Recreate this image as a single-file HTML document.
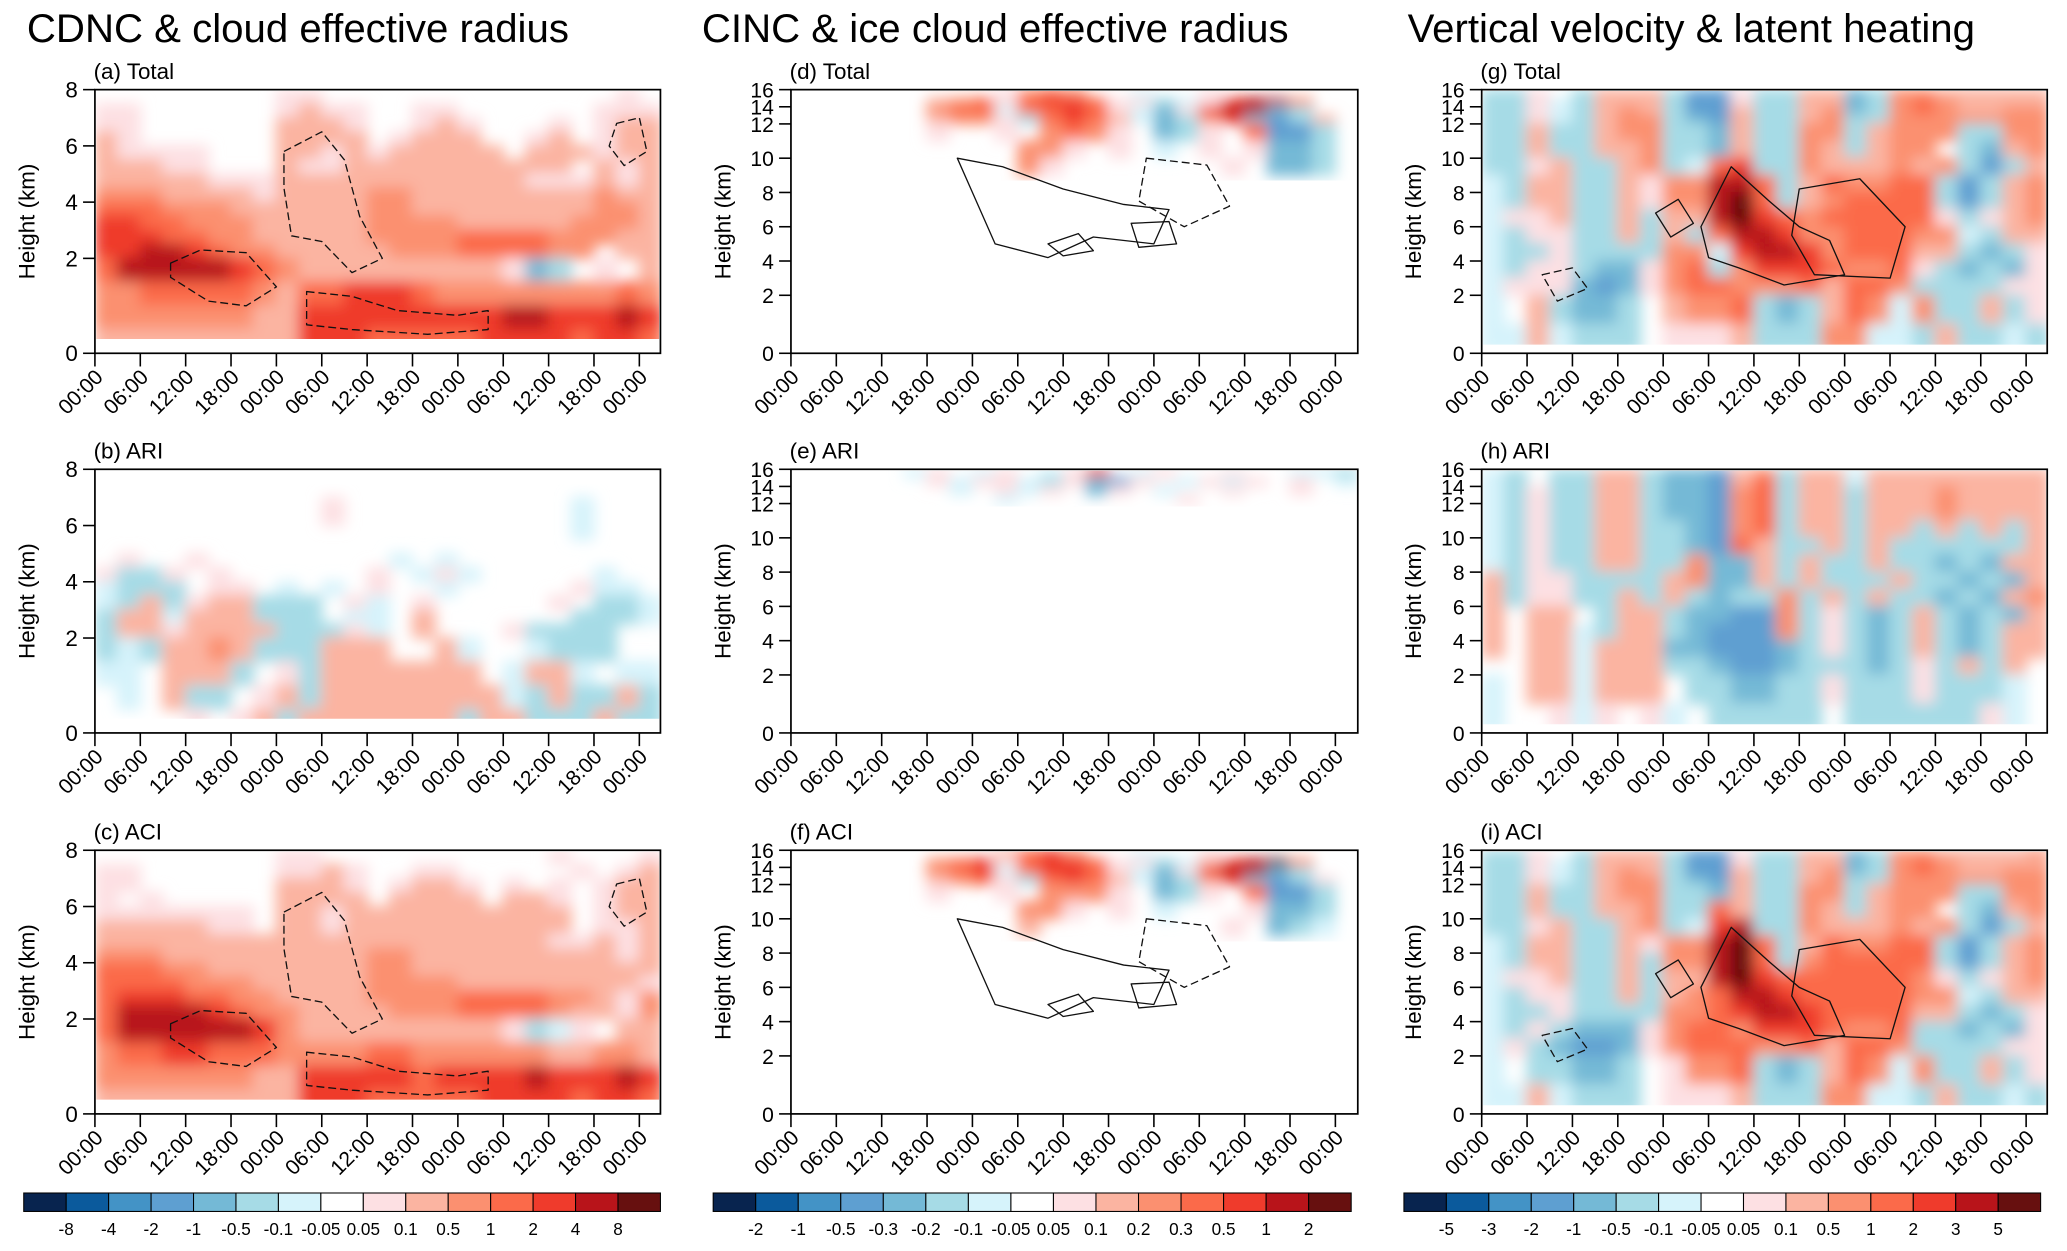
<!DOCTYPE html>
<html><head><meta charset="utf-8">
<style>
html,body{margin:0;padding:0;background:#fff;}
svg{display:block;}
text{font-family:"Liberation Sans",Arial,sans-serif;fill:#000;}
</style></head>
<body>
<svg id="fig" width="2067" height="1251" viewBox="0 0 1568 949" xmlns="http://www.w3.org/2000/svg">
<defs>
<filter id="soft" x="-5%" y="-5%" width="110%" height="110%"><feGaussianBlur stdDeviation="5.5"/></filter>
</defs>
<text x="226" y="32" font-size="30.5" text-anchor="middle">CDNC &amp; cloud effective radius</text>
<text x="755" y="32" font-size="30.5" text-anchor="middle">CINC &amp; ice cloud effective radius</text>
<text x="1283" y="32" font-size="30.5" text-anchor="middle">Vertical velocity &amp; latent  heating</text>
</svg>
<script>
// ---- colour levels ----
const colors = ["#08244f","#0b5a9c","#4393c6","#5e9fd1","#74b9d6","#a6dbe6","#d6f3fb","#ffffff","#fde0e3","#fbb4a1","#fb9070","#fb6a4a","#ef3b2c","#b8141a","#67100f"];
const cbLabels1 = ["-8","-4","-2","-1","-0.5","-0.1","-0.05","0.05","0.1","0.5","1","2","4","8"];
const cbLabels2 = ["-2","-1","-0.5","-0.3","-0.2","-0.1","-0.05","0.05","0.1","0.2","0.3","0.5","1","2"];
const cbLabels3 = ["-5","-3","-2","-1","-0.5","-0.1","-0.05","0.05","0.1","0.5","1","2","3","5"];
const timeTicks = ["00:00","06:00","12:00","18:00","00:00","06:00","12:00","18:00","00:00","06:00","12:00","18:00","00:00"];
const yTicksLow = [0,2,4,6,8];
const yTicksHigh = [0,2,4,6,8,10,12,14,16];
// field rows listed top (highest) to bottom; columns = 3-hour steps
const fieldA = [
"........11.............1.",
"11......1211..11......111",
"11......2221..121...1.122",
"21......2222.1222..12.122",
"21111...2212122222.222122",
"22211...2112222222222.212",
"2222211122222222222111212",
"3332222122223322222222322",
"4443332222223322222222332",
"5544333222223333222223332",
"5554433222223333444433322",
"5566543322222333444433.22",
"4666665432222222221cb.1.2",
"3344444324455543333333343",
"3333333225555555556655565",
"2222222225554444455554554"];
const fieldB = [
".........................",
".........................",
"..........1..........a...",
"..........1..........a...",
".....................a...",
".........................",
".1..1........a.a.........",
"1bb1.1......1.a1a.....a..",
"abbb.11.a.a.1..a.....1aa.",
"ab2b122bbb.1a.1.....1.bba",
"b22a222bbb.aa.2......bbba",
"b2212222bbb1a.2...1bbbb..",
"bab2232bbb222..2a..abbb..",
"aa.222b.1b2222222.a22a.aa",
".a.2bb.12b22222222ab2bb2b",
"....1.12b2222222b22bbb2bb"];
const fieldC = [
"........11..........1...1",
"11......1121..11.....1.12",
"11......2221.1221.1.1.122",
"1.1.....2222.2222.221.122",
"1111111.2212222222222.122",
"2222211.2212222222222.112",
"2222222222222222222211212",
"3332222222223322222222212",
"4443322222223322222222222",
"4444333222223333222222221",
"4555443322223333444433213",
"4666654332222333444432213",
"4666666532222222221ba1.22",
"3445544433334433333322332",
"3333333225555545555655565",
"2222222225554444455554554"];
const fieldD = [
".........1343..a..1......",
"......2341455411ba15663..",
"......344a44541ac1566cb..",
"......2331b4542acb35cdb2.",
"......1..1.3431.cb1.4ddb.",
"..........331.1.a.1.1ccb.",
"..........31.......1.ccb.",
".........................",
".........................",
".........................",
".........................",
".........................",
".........................",
".........................",
".........................",
"........................."];
const fieldE = [
".....a1.a1.a15.a1..1..aab",
"......1a11ab1cd1.a1a1.1.a",
".......a.1a1.c1.a..1..1..",
".........a.......1.......",
".........................",
".........................",
".........................",
".........................",
".........................",
".........................",
".........................",
".........................",
".........................",
".........................",
".........................",
"........................."];
const fieldF = [
".........2453..a..1......",
"......3451455411ba25673..",
"......345a45541ac1566cb..",
"......2341b4542acb35cdb1.",
"......1..1.3331.cb1.4ddb.",
"..........331.1.a...1ccb.",
"..........2........1.cba.",
".........................",
".........................",
".........................",
".........................",
".........................",
".........................",
".........................",
".........................",
"........................."];
const fieldG = [
"bb1.b222bdd1bb22cb3322222",
"bb1ab222bdd1bb22cb3432222",
"bb1ab232bdd2bb23cb3432233",
"bb1ab233bcd2bb23bb3333333",
"bb2bb233bbc2bb33b2333bb33",
"bb2bb223bbc2bb32b233.bc23",
"bb12bb23ba45bb3222323bdb2",
"ab22bb2133664b243344bdb23",
"ab22bb2133674b234444bdb23",
"a112bb2b2267543444441b123",
"ab11bb2b2b46653344433ab22",
"abb1bbbb33a5665344422bcb1",
"ab11bcc134b355543341bcbc1",
"a111cdc134433342443bbbb11",
"a.2bccb.2334bcb243a3bb2b1",
"aa2abbb.1112bbb33aab2bbab"];
const fieldH = [
"ab.bb22bccd23b22a22222222",
"ab.bb22bccd24b22a22222222",
"ab1bb22bccd34b22b22232222",
"ab1bb22bccd34b22b22232222",
"ab1bb22bccd34b22b22232222",
"ab1bb22bbcd34b22b22b2b2b2",
"ab1bb22bbcd42bb2b2bbbbbb2",
"ab1bb22bb3cc2b2bb2bbcbc22",
"2b11bbbb23cc2b2bbb2bbcbc2",
"2b11bb2b2bcbb3b2b2bbcbc23",
"2.22.b22bccdd3b1bcb2bcbc2",
"2.22ab22bcddd3b1bcb2bcb22",
"2.22a222ccdddcb1bcb2bcb22",
"..22a222bbcddcbbbcb1b2b2.",
"a.22a222.bbccbb1bbb1bbba.",
"a..1a1.1a.bbbbb.bbbbbb1a."];
const fieldI = [
"bb1.b222bdd1bb22cb3322223",
"bb1ab222bdd1bb22cb3432222",
"bb1ab232bdd2bb23cb3432233",
"bb1ab233bcd2bb23bb3333333",
"bb2bb233bbc2bb33b2333bb33",
"bb2bb223bb42bb32b233.bc23",
"bb12bb23ba56bb3222323bdb2",
"ab22bb2133674b243344bdb23",
"ab22bb2b33674b344444bdb23",
"a112bb2b2267544444431b123",
"ab11bb2b2346654444433ab22",
"abb1bbbb3345665444422bcb1",
"ab1bccc134435554334bbcbc1",
"a1bcddc134443342443bbbb11",
"a.bbccb.1334bcb243a3bb2b1",
"aa2abbb.1112bbb33aab2bbab"];

// contour lines: [hours, km] pairs
const contourA1 = [[10,1.9],[14,2.3],[20,2.2],[24,1.4],[20,1.0],[15,1.1],[10,1.6]];
const contourA2 = [[25,5.8],[30,6.5],[33,5.5],[35,3.5],[38,2.0],[34,1.7],[30,2.6],[26,2.8],[25,4.5]];
const contourA3 = [[28,1.3],[34,1.2],[40,0.9],[48,0.8],[52,0.9],[52,0.5],[44,0.4],[34,0.5],[28,0.6]];
const contourA4 = [[69,6.8],[72,7.0],[73,5.8],[70,5.3],[68,6.0]];
const contourD1 = [[22,10],[28,9.5],[36,8.2],[44,7.3],[50,7.0],[48,5.0],[40,5.4],[34,4.2],[27,5.0],[24,8.0]];
const contourD2 = [[34,5.0],[38,5.6],[40,4.6],[36,4.3]];
const contourD3 = [[47,10],[55,9.6],[58,7.2],[52,6.0],[46,7.5]];
const contourD4 = [[45,6.2],[50,6.3],[51,5.0],[46,4.8]];
const contourG1 = [[29,6.0],[33,9.5],[38,7.5],[42,6.0],[46,5.2],[48,3.2],[40,2.6],[34,3.6],[30,4.2]];
const contourG2 = [[42,8.2],[50,8.8],[56,6.0],[54,3.0],[44,3.2],[41,5.5]];
const contourG3 = [[23,6.8],[26,7.6],[28,6.2],[25,5.4]];
const contourG4 = [[8,3.2],[12,3.6],[14,2.4],[10,1.8]];

const charLevel = {'g':0,'f':1,'e':2,'d':3,'c':4,'b':5,'a':6,'.':7,'1':8,'2':9,'3':10,'4':11,'5':12,'6':13,'7':14};
const NS = "http://www.w3.org/2000/svg";
const svg = document.getElementById('fig');
const colX0 = [72, 600, 1124], colX1 = [501, 1030, 1553];
const rowY0 = [68, 356, 645], PH = 200;
const TICKSPAN = 413; // px for 72 h

function mk(tag, attrs, parent){
  const e = document.createElementNS(NS, tag);
  for (const k in attrs) e.setAttribute(k, attrs[k]);
  (parent||svg).appendChild(e);
  return e;
}
function xScale(col, hours){ return colX0[col] + hours/72*TICKSPAN; }
function fracLow(h){ return h<=2 ? h/2*0.36 : 0.36 + (h-2)/6*0.64; }
function fracHigh(h){ if(h<=2) return h/2*0.22; if(h<=12) return 0.22+(h-2)/2*0.13; return 0.87+(h-12)/4*0.13; }
function yScale(col,row,h){ const f = col===0 ? fracLow(h) : fracHigh(h); return rowY0[row]+PH - f*PH; }

const panels = [
 {col:0,row:0,field:fieldA,label:"(a) Total",name:"panel-a-total",contours:[[contourA1,1],[contourA2,1],[contourA3,1],[contourA4,1]]},
 {col:0,row:1,field:fieldB,label:"(b) ARI",name:"panel-b-ari",contours:[]},
 {col:0,row:2,field:fieldC,label:"(c) ACI",name:"panel-c-aci",contours:[[contourA1,1],[contourA2,1],[contourA3,1],[contourA4,1]]},
 {col:1,row:0,field:fieldD,label:"(d) Total",name:"panel-d-total",contours:[[contourD1,0],[contourD2,0],[contourD3,1],[contourD4,0]]},
 {col:1,row:1,field:fieldE,label:"(e) ARI",name:"panel-e-ari",contours:[]},
 {col:1,row:2,field:fieldF,label:"(f) ACI",name:"panel-f-aci",contours:[[contourD1,0],[contourD2,0],[contourD3,1],[contourD4,0]]},
 {col:2,row:0,field:fieldG,label:"(g)  Total",name:"panel-g-total",contours:[[contourG1,0],[contourG2,0],[contourG3,0],[contourG4,1]]},
 {col:2,row:1,field:fieldH,label:"(h) ARI",name:"panel-h-ari",contours:[]},
 {col:2,row:2,field:fieldI,label:"(i)  ACI",name:"panel-i-aci",contours:[[contourG1,0],[contourG2,0],[contourG3,0],[contourG4,1]]}
];

panels.forEach((p, pi) => {
  const x0 = colX0[p.col], x1 = colX1[p.col], y0 = rowY0[p.row], y1 = y0+PH;
  const g = mk('g', {});
  
  
  const cp = mk('clipPath', {id:'clip'+pi}, g);
  const yClipBot = yScale(p.col,p.row,0.3);
  mk('rect', {x:x0+1, y:y0+1, width:x1-x0-2, height:yClipBot-y0-1}, cp);
  const fg = mk('g', {'clip-path':'url(#clip'+pi+')'}, g);
  const inner = mk('g', {filter:'url(#soft)'}, fg);
  const nRows = p.field.length;
  const hMax = p.col===0 ? 8 : 16;
  const dh = hMax / nRows;
  p.field.forEach((rowStr, ri) => {
    const hTop = hMax - ri*dh, hBot = hTop - dh;
    const yt = yScale(p.col,p.row,hTop), yb = yScale(p.col,p.row,hBot);
    for (let c = 0; c < 25; c++) {
      const ch = rowStr[c] || '.';
      const lvl = charLevel[ch] === undefined ? 7 : charLevel[ch];
      if (lvl === 7) continue;
      const xa = xScale(p.col, c*3), xb = xScale(p.col, (c+1)*3);
      const r = mk('rect', {x:xa-0.6, y:yt-0.6, width:xb-xa+1.2, height:yb-yt+1.2, fill:colors[lvl]}, inner);
      
      
    }
  });
  // contour lines
  p.contours.forEach(([pts, dashed]) => {
    const d = pts.map((q,i)=> (i?'L':'M') + xScale(p.col,q[0]).toFixed(1) + ',' + yScale(p.col,p.row,q[1]).toFixed(1)).join(' ') + ' Z';
    const path = mk('path', {d:d, fill:'none', stroke:'#111', 'stroke-width':1, 'stroke-dasharray': dashed ? '6,3' : 'none', 'stroke-linejoin':'round'}, fg);
    
    
  });
  // frame
  const fr = mk('rect', {x:x0, y:y0, width:x1-x0, height:PH, fill:'none', stroke:'#000', 'stroke-width':1.3}, g);
  
  
  // panel label
  const lb = mk('text', {x:x0-1, y:y0-8, 'font-size':17}, g);
  lb.textContent = p.label;
  
  
  // y axis
  const yt = p.col===0 ? yTicksLow : yTicksHigh;
  yt.forEach(h => {
    const yy = yScale(p.col,p.row,h);
    mk('line', {x1:x0-9, x2:x0, y1:yy, y2:yy, stroke:'#000', 'stroke-width':1.2}, g);
    const t = mk('text', {x:x0-13, y:yy+6, 'font-size': p.col===0?17:16, 'text-anchor':'end'}, g);
    t.textContent = h;
    
    
  });
  const ya = mk('text', {x:0, y:0, 'font-size':17, 'text-anchor':'middle', transform:`translate(${x0-46},${y0+PH/2}) rotate(-90)`}, g);
  ya.textContent = "Height (km)";
  
  
  // x axis
  timeTicks.forEach((lab, i) => {
    const xx = xScale(p.col, i*6);
    mk('line', {x1:xx, x2:xx, y1:y1, y2:y1+10, stroke:'#000', 'stroke-width':1.2}, g);
    const t = mk('text', {x:0, y:0, 'font-size':16, 'text-anchor':'end', transform:`translate(${xx+7},${y1+19}) rotate(-45)`}, g);
    t.textContent = lab;
    
    
  });
});

// colour bars
const cbX0 = [18, 541, 1065], cbX1 = [501, 1025, 1548];
const cbLabelSets = [cbLabels1, cbLabels2, cbLabels3];
for (let k = 0; k < 3; k++) {
  const g = mk('g', {});
  
  
  const w = (cbX1[k]-cbX0[k]) / colors.length;
  colors.forEach((c, i) => {
    const r = mk('rect', {x:cbX0[k]+i*w, y:905, width:w, height:14, fill:c, stroke:'#000', 'stroke-width':0.8}, g);
    
    
  });
  cbLabelSets[k].forEach((lab, i) => {
    const t = mk('text', {x:cbX0[k]+(i+1)*w, y:937, 'font-size':13, 'text-anchor':'middle'}, g);
    t.textContent = lab;
    
    
  });
}
</script>
</body></html>
